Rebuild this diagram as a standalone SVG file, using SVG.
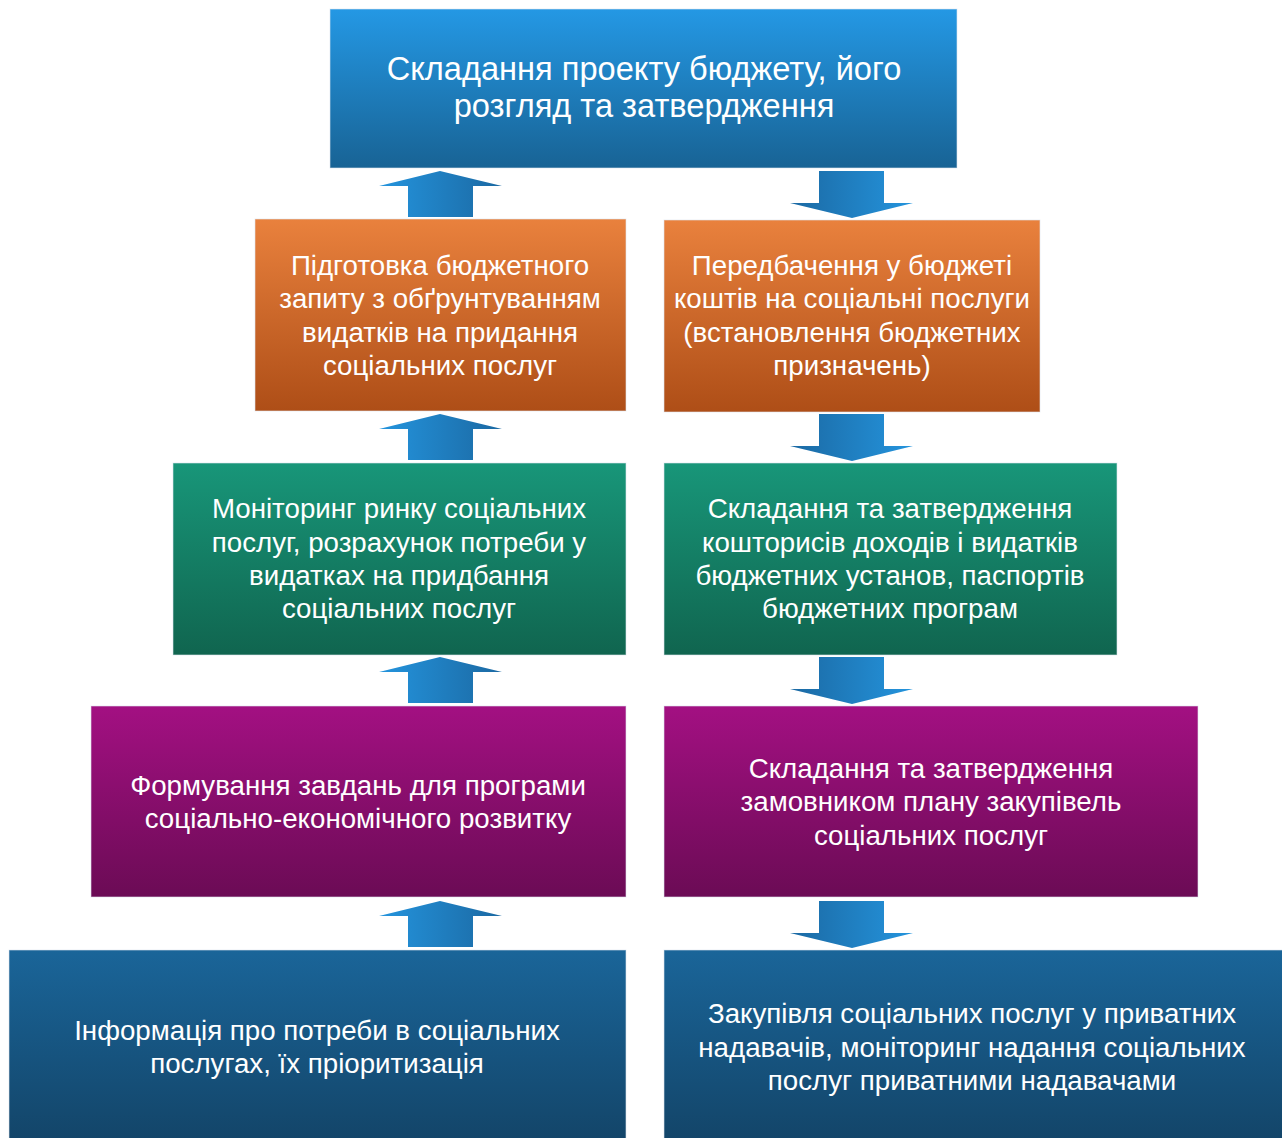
<svg xmlns="http://www.w3.org/2000/svg" width="1282" height="1138" viewBox="0 0 1282 1138">
<defs>
<linearGradient id="gBlueTop" x1="0" y1="0" x2="0" y2="1"><stop offset="0" stop-color="#2498E4"/><stop offset="1" stop-color="#186395"/></linearGradient>
<linearGradient id="gOrange" x1="0" y1="0" x2="0" y2="1"><stop offset="0" stop-color="#E9813D"/><stop offset="1" stop-color="#AE4E17"/></linearGradient>
<linearGradient id="gTeal" x1="0" y1="0" x2="0" y2="1"><stop offset="0" stop-color="#189679"/><stop offset="1" stop-color="#10654F"/></linearGradient>
<linearGradient id="gPurple" x1="0" y1="0" x2="0" y2="1"><stop offset="0" stop-color="#A31082"/><stop offset="1" stop-color="#6B0B55"/></linearGradient>
<linearGradient id="gBlueBot" x1="0" y1="0" x2="0" y2="1"><stop offset="0" stop-color="#1A6599"/><stop offset="1" stop-color="#134569"/></linearGradient>
<linearGradient id="gUp" x1="0" y1="0" x2="1" y2="0"><stop offset="0" stop-color="#2494DD"/><stop offset="1" stop-color="#1B69A3"/></linearGradient>
<linearGradient id="gDown" x1="0" y1="0" x2="1" y2="0"><stop offset="0" stop-color="#1B69A3"/><stop offset="1" stop-color="#2494DD"/></linearGradient>
<path id="up" d="M440,0 L502,15 L473,15 L473,46 L408,46 L408,15 L379,15 Z"/>
<path id="down" d="M819,0 L884,0 L884,32 L913,32 L852,47 L790,32 L819,32 Z"/>
</defs>
<style>
.box{stroke:#dfe6ee;stroke-width:1;stroke-opacity:0.6}
text{fill:#ffffff;text-anchor:middle}
.t1{font-size:32.6px}
.t2{font-size:27.7px}
</style>
<rect width="1282" height="1138" fill="#ffffff"/>
<g id="connectors">
<use href="#up" y="171" fill="url(#gUp)"/>
<use href="#up" y="414" fill="url(#gUp)"/>
<use href="#up" y="657" fill="url(#gUp)"/>
<use href="#up" y="901" fill="url(#gUp)"/>
<use href="#down" y="171" fill="url(#gDown)"/>
<use href="#down" y="414" fill="url(#gDown)"/>
<use href="#down" y="657" fill="url(#gDown)"/>
<use href="#down" y="901" fill="url(#gDown)"/>
</g>
<g font-family="Liberation Sans, Arial, sans-serif">
<g id="n-top">
<rect class="box" x="330" y="9" width="627" height="159" fill="url(#gBlueTop)"/>
<text class="t1" x="644" y="80">Складання проекту бюджету, його</text>
<text class="t1" x="644" y="117">розгляд та затвердження</text>
</g>
<g id="n-orange-left">
<rect class="box" x="255" y="219" width="371" height="192" fill="url(#gOrange)"/>
<text class="t2" x="440" y="275">Підготовка бюджетного</text>
<text class="t2" x="440" y="308">запиту з обґрунтуванням</text>
<text class="t2" x="440" y="342">видатків на придання</text>
<text class="t2" x="440" y="375">соціальних послуг</text>
</g>
<g id="n-orange-right">
<rect class="box" x="664" y="220" width="376" height="192" fill="url(#gOrange)"/>
<text class="t2" x="852" y="275">Передбачення у бюджеті</text>
<text class="t2" x="852" y="308">коштів на соціальні послуги</text>
<text class="t2" x="852" y="342">(встановлення бюджетних</text>
<text class="t2" x="852" y="375">призначень)</text>
</g>
<g id="n-teal-left">
<rect class="box" x="173" y="463" width="453" height="192" fill="url(#gTeal)"/>
<text class="t2" x="399" y="518">Моніторинг ринку соціальних</text>
<text class="t2" x="399" y="552">послуг, розрахунок потреби у</text>
<text class="t2" x="399" y="585">видатках на придбання</text>
<text class="t2" x="399" y="618">соціальних послуг</text>
</g>
<g id="n-teal-right">
<rect class="box" x="664" y="463" width="453" height="192" fill="url(#gTeal)"/>
<text class="t2" x="890" y="518">Складання та затвердження</text>
<text class="t2" x="890" y="552">кошторисів доходів і видатків</text>
<text class="t2" x="890" y="585">бюджетних установ, паспортів</text>
<text class="t2" x="890" y="618">бюджетних програм</text>
</g>
<g id="n-purple-left">
<rect class="box" x="91" y="706" width="535" height="191" fill="url(#gPurple)"/>
<text class="t2" x="358" y="795">Формування завдань для програми</text>
<text class="t2" x="358" y="828">соціально-економічного розвитку</text>
</g>
<g id="n-purple-right">
<rect class="box" x="664" y="706" width="534" height="191" fill="url(#gPurple)"/>
<text class="t2" x="931" y="778">Складання та затвердження</text>
<text class="t2" x="931" y="811">замовником плану закупівель</text>
<text class="t2" x="931" y="845">соціальних послуг</text>
</g>
<g id="n-blue-left">
<rect class="box" x="9" y="950" width="617" height="190" fill="url(#gBlueBot)"/>
<text class="t2" x="317" y="1040">Інформація про потреби в соціальних</text>
<text class="t2" x="317" y="1073">послугах, їх пріоритизація</text>
</g>
<g id="n-blue-right">
<rect class="box" x="664" y="950" width="619" height="190" fill="url(#gBlueBot)"/>
<text class="t2" x="972" y="1023">Закупівля соціальних послуг у приватних</text>
<text class="t2" x="972" y="1057">надавачів, моніторинг надання соціальних</text>
<text class="t2" x="972" y="1090">послуг приватними надавачами</text>
</g>
</g>
</svg>
